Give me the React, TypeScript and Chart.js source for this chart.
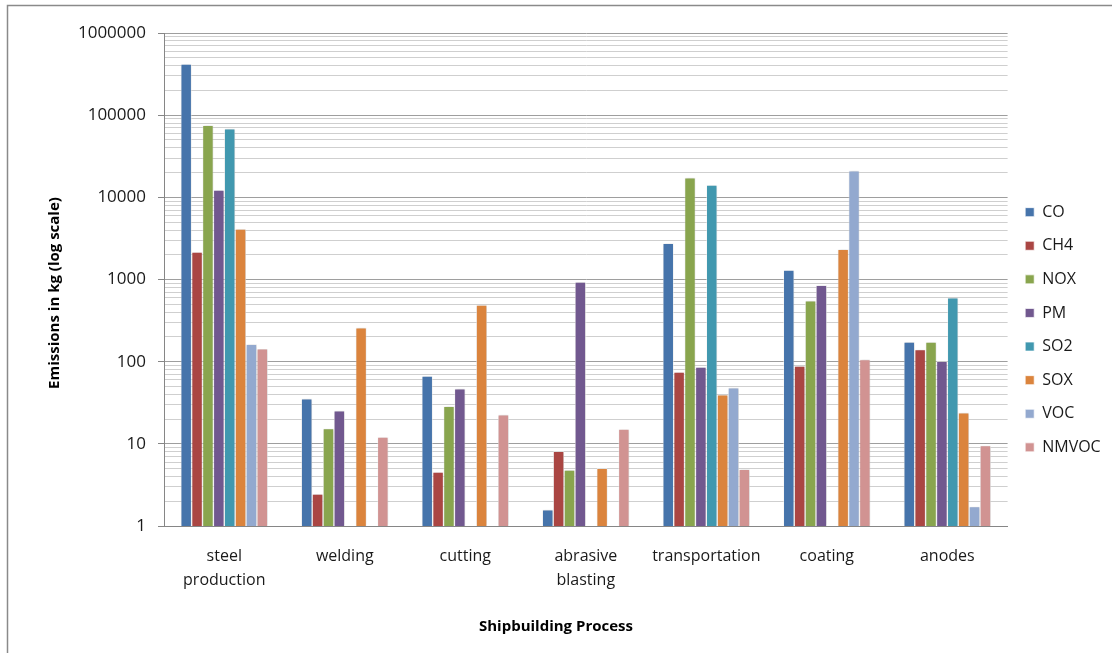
import React, { useEffect, useRef } from "react";
import { Chart, registerables } from "chart.js";

Chart.register(...registerables);

// Shipbuilding processes (x categories)
const processes: (string | string[])[] = [
  ["steel", "production"],
  "welding",
  "cutting",
  ["abrasive", "blasting"],
  "transportation",
  "coating",
  "anodes",
];

// Emissions in kg per pollutant, one value per process (null = not reported)
const coValues = [420000, 35.4, 66.9, 1.58, 2760, 1300, 173];
const ch4Values = [2160, 2.45, 4.54, 8.1, 74.8, 88.5, 140];
const noxValues = [75200, 15.3, 28.6, 4.8, 17300, 552, 173];
const pmValues = [12300, 25.3, 46.9, 933, 86, 849, 101];
const so2Values = [68400, null, null, null, 14100, null, 600];
const soxValues = [4110, 259, 490, 5.04, 39.6, 2330, 23.9];
const vocValues = [163, null, null, null, 48.2, 21100, 1.72];
const nmvocValues = [143, 12.1, 22.6, 15.1, 4.9, 106, 9.5];

const seriesNames = ["CO", "CH4", "NOX", "PM", "SO2", "SOX", "VOC", "NMVOC"];
const seriesColors = [
  "#4674AB",
  "#AA4643",
  "#89A54E",
  "#71588F",
  "#4198AF",
  "#DB843D",
  "#93A9CF",
  "#D19392",
];

// Labelled decades of the log axis and the minor steps drawn between them
const decadeTicks = [1, 10, 100, 1000, 10000, 100000, 1000000];
const minorSteps = [2, 3, 4, 5, 6, 7, 8, 9];

const xTitle = "Shipbuilding Process";
const yTitle = "Emissions in kg (log scale)";

const FONT = "'Open Sans', sans-serif";

const isDecade = (v: number) => decadeTicks.includes(v);

// Outer chart frame, soft bar shadows and the two axis titles
const frameAndTitles = {
  id: "frameAndTitles",
  beforeDraw(chart: any) {
    const { ctx, width, height } = chart;
    ctx.save();
    ctx.fillStyle = "#ffffff";
    ctx.fillRect(0, 0, width, height);
    ctx.strokeStyle = "#8a8a8a";
    ctx.lineWidth = 1.5;
    ctx.beginPath();
    ctx.moveTo(7.5, height);
    ctx.lineTo(7.5, 5.5);
    ctx.lineTo(width, 5.5);
    ctx.stroke();
    ctx.restore();
  },
  beforeDatasetsDraw(chart: any) {
    const { ctx } = chart;
    ctx.save();
    ctx.shadowColor = "rgba(0,0,0,0.2)";
    ctx.shadowBlur = 3;
    ctx.shadowOffsetX = 0.5;
    ctx.shadowOffsetY = 0;
  },
  afterDatasetsDraw(chart: any) {
    chart.ctx.restore();
  },
  afterDraw(chart: any) {
    const { ctx } = chart;
    ctx.save();
    ctx.font = `bold 15px ${FONT}`;
    ctx.fillStyle = "#000000";
    ctx.textAlign = "center";
    ctx.textBaseline = "middle";
    ctx.fillText(xTitle, 556, 627);
    ctx.translate(55, 293);
    ctx.rotate(-Math.PI / 2);
    ctx.fillText(yTitle, 0, 0);
    ctx.restore();
  },
};

export default function App() {
  const canvasRef = useRef<HTMLCanvasElement | null>(null);

  useEffect(() => {
    if (!canvasRef.current) return;
    const valueSets = [
      coValues,
      ch4Values,
      noxValues,
      pmValues,
      so2Values,
      soxValues,
      vocValues,
      nmvocValues,
    ];
    const chart = new Chart(canvasRef.current, {
      type: "bar",
      data: {
        labels: processes,
        datasets: seriesNames.map((name, i) => ({
          label: name,
          data: valueSets[i],
          backgroundColor: seriesColors[i],
          borderColor: "#ffffff",
          borderWidth: 0.7,
          barPercentage: 1,
          categoryPercentage: 0.722,
        })),
      },
      options: {
        animation: false,
        responsive: false,
        devicePixelRatio: 1,
        layout: { padding: { top: 33, left: 0, right: 1.3, bottom: 26.5 } },
        plugins: {
          legend: {
            position: "right",
            align: "center",
            labels: {
              boxWidth: 9,
              boxHeight: 9,
              padding: 17.6,
              color: "#1a1a1a",
              font: { family: FONT, size: 16 },
            },
          },
          tooltip: { enabled: false },
        },
        scales: {
          x: {
            grid: { display: false },
            border: { display: true, color: "#868686", width: 1 },
            ticks: {
              color: "#1a1a1a",
              font: { family: FONT, size: 16, lineHeight: 1.47 },
              padding: 11,
              maxRotation: 0,
              autoSkip: false,
            },
            afterFit: (scale: any) => {
              scale.height = 100.5;
            },
          },
          y: {
            type: "logarithmic",
            min: 1,
            max: 1000000,
            afterBuildTicks: (scale: any) => {
              const ticks: { value: number; major: boolean }[] = [];
              decadeTicks.forEach((d, i) => {
                ticks.push({ value: d, major: true });
                if (i < decadeTicks.length - 1) {
                  minorSteps.forEach((m) => ticks.push({ value: d * m, major: false }));
                }
              });
              scale.ticks = ticks;
            },
            afterFit: (scale: any) => {
              scale.width = 164;
            },
            grid: {
              color: (ctx: any) => (isDecade(ctx.tick?.value) ? "#9e9e9e" : "#cfcfcf"),
              tickColor: (ctx: any) =>
                isDecade(ctx.tick?.value) ? "#868686" : "rgba(0,0,0,0)",
              tickLength: 6,
              lineWidth: 1,
            },
            border: { display: true, color: "#868686", width: 1 },
            ticks: {
              autoSkip: false,
              padding: 12,
              color: "#1a1a1a",
              font: { family: FONT, size: 17 },
              callback: (value: any) => (isDecade(Number(value)) ? String(value) : ""),
            },
          },
        },
      },
      plugins: [frameAndTitles],
    } as any);
    return () => chart.destroy();
  }, []);

  return (
    <div style={{ position: "fixed", left: 0, top: 0, width: 1112, height: 653, overflow: "hidden", background: "#fff" }}>
      <canvas ref={canvasRef} width={1112} height={653} style={{ display: "block", width: 1112, height: 653 }} />
    </div>
  );
}
